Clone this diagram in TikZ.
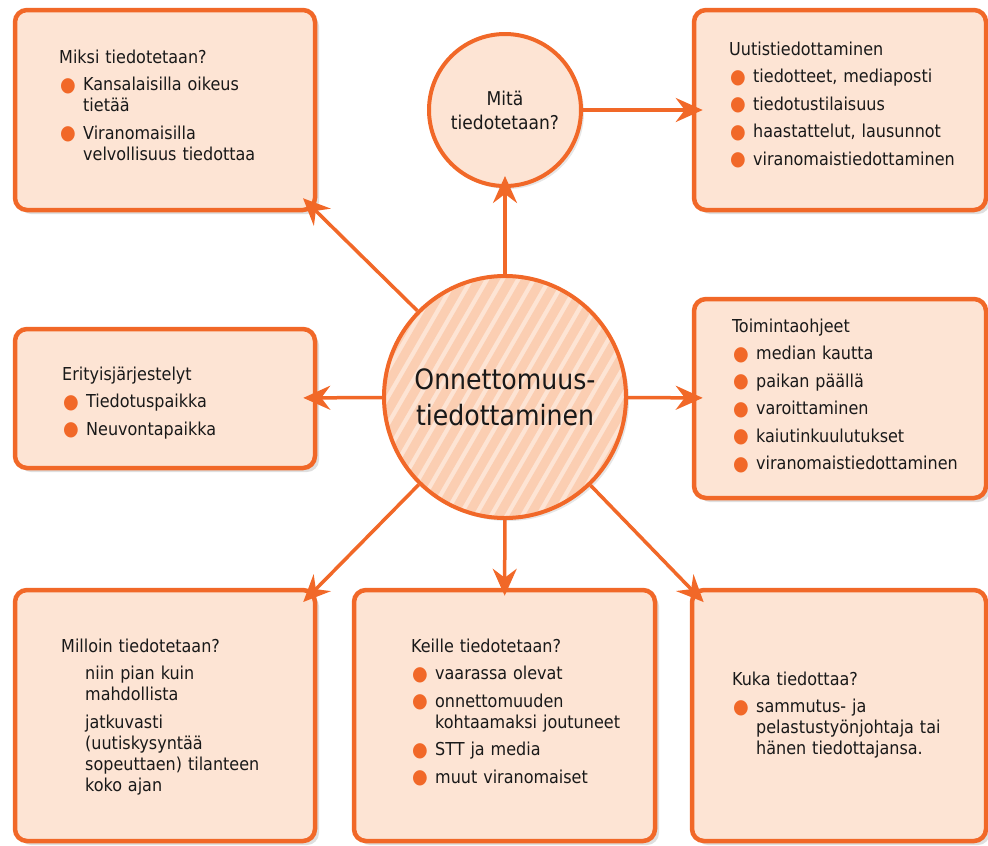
\documentclass[tikz,border=0pt]{standalone}
\usepackage{fontspec}
\setmainfont{DejaVu Sans Condensed}
\usetikzlibrary{arrows.meta,shadows}
\definecolor{oranssi}{RGB}{241,104,40}
\definecolor{persikka}{RGB}{253,228,212}
\definecolor{raita}{RGB}{251,206,178}
\definecolor{musta}{RGB}{25,25,25}
\newcommand{\pallura}{\textcolor{oranssi}{\fontsize{20}{20}\selectfont\raisebox{-0.5pt}{●}}}
\newcommand{\kohta}[1]{\par\vspace{6.5pt}\hangindent=24pt\hangafter=1\noindent\makebox[24pt][l]{\hspace{1pt}\pallura}#1\par}
\newcommand{\vali}[1]{\par\vspace{6.5pt}\hangindent=24pt\hangafter=0\noindent #1\par}
\begin{document}
\begin{tikzpicture}[x=1pt,y=-1pt]
			\tikzstyle{laatikko}=[draw=oranssi,line width=4.5pt,fill=persikka,rounded corners=12pt,drop shadow={shadow xshift=4pt,shadow yshift=-4pt,opacity=0.25}]
			\tikzstyle{pallo}=[circle,draw=oranssi,line width=4pt,fill=persikka,inner sep=0pt,drop shadow={shadow xshift=3pt,shadow yshift=-3pt,opacity=0.2}]
			\tikzstyle{teksti}=[anchor=base west,inner sep=0pt,text width=270pt,align=left,text=musta,font=\fontsize{17.8}{21}\selectfont]
			\tikzstyle{nuoli}=[draw=oranssi,line width=3.5pt,-{Stealth[length=27pt,width=24pt,inset=9pt]}]
			\def\Jakso{15.6}
			\useasboundingbox (0,0) rectangle (988,846);
			% laatikot
			\node[laatikko,minimum width=300pt,minimum height=200pt] (Miksi) at (165,110) {};
			\node[laatikko,minimum width=292pt,minimum height=200pt] (Uutis) at (840,110) {};
			\node[laatikko,minimum width=300pt,minimum height=139pt] (Erit) at (165,398.5) {};
			\node[laatikko,minimum width=292pt,minimum height=199pt] (Toim) at (840,398.5) {};
			\node[laatikko,minimum width=300pt,minimum height=251pt] (Milloin) at (165,715.5) {};
			\node[laatikko,minimum width=301pt,minimum height=251pt] (Keille) at (504.5,715.5) {};
			\node[laatikko,minimum width=294pt,minimum height=251pt] (Kuka) at (839,715.5) {};
			\node[pallo,minimum size=152pt,align=center,text=musta,font=\fontsize{19}{24}\selectfont] (Mita) at (505,110) {Mitä\\tiedotetaan?};
			\node[pallo,minimum size=242pt,align=center,text=musta,font=\fontsize{28}{36}\selectfont,
				path picture={\foreach \i in {-18,...,18}
					\draw[raita,line width=9pt] ([shift={(\i*\Jakso-150,260)}]path picture bounding box.center) -- ++(300,-520);}] (K) at (505,397) {Onnettomuus-\\tiedottaminen};
			% tekstit
			\node[teksti] (Miksit) at (59,63) {Miksi tiedotetaan?
				\kohta{Kansalaisilla oikeus\newline tietää}
				\kohta{Viranomaisilla\newline velvollisuus tiedottaa}};
			\node[teksti] (Uutist) at (729,55) {Uutistiedottaminen
				\kohta{tiedotteet, mediaposti}
				\kohta{tiedotustilaisuus}
				\kohta{haastattelut, lausunnot}
				\kohta{viranomaistiedottaminen}};
			\node[teksti] (Eritt) at (62,380) {Erityisjärjestelyt
				\kohta{Tiedotuspaikka}
				\kohta{Neuvontapaikka}};
			\node[teksti] (Toimt) at (732,332) {Toimintaohjeet
				\kohta{median kautta}
				\kohta{paikan päällä}
				\kohta{varoittaminen}
				\kohta{kaiutinkuulutukset}
				\kohta{viranomaistiedottaminen}};
			\node[teksti] (Milloint) at (61,652) {Milloin tiedotetaan?
				\vali{niin pian kuin\newline mahdollista}
				\vali{jatkuvasti\newline (uutiskysyntää\newline sopeuttaen) tilanteen\newline koko ajan}};
			\node[teksti] (Keillet) at (411,652) {Keille tiedotetaan?
				\kohta{vaarassa olevat}
				\kohta{onnettomuuden\newline kohtaamaksi joutuneet}
				\kohta{STT ja media}
				\kohta{muut viranomaiset}};
			\node[teksti] (Kukat) at (732,685) {Kuka tiedottaa?
				\kohta{sammutus- ja\newline pelastustyönjohtaja tai\newline hänen tiedottajansa.}};
			% nuolet
			\draw[nuoli,shorten >=-12pt] (K)--(Mita);
			\draw[nuoli,shorten >=-11pt] (Mita)--(Uutis);
			\draw[nuoli,shorten >=-20pt] (K)--(Miksi.south east);
			\draw[nuoli,shorten >=-14pt] (K)--(Erit);
			\draw[nuoli,shorten >=-11pt] (K)--(Toim);
			\draw[nuoli,shorten >=-20pt] (K)--(Milloin.north east);
			\draw[nuoli,shorten >=-8pt] (K)--(Keille);
			\draw[nuoli,shorten >=-20pt] (K)--(Kuka.north west);
		\end{tikzpicture}
\end{document}
